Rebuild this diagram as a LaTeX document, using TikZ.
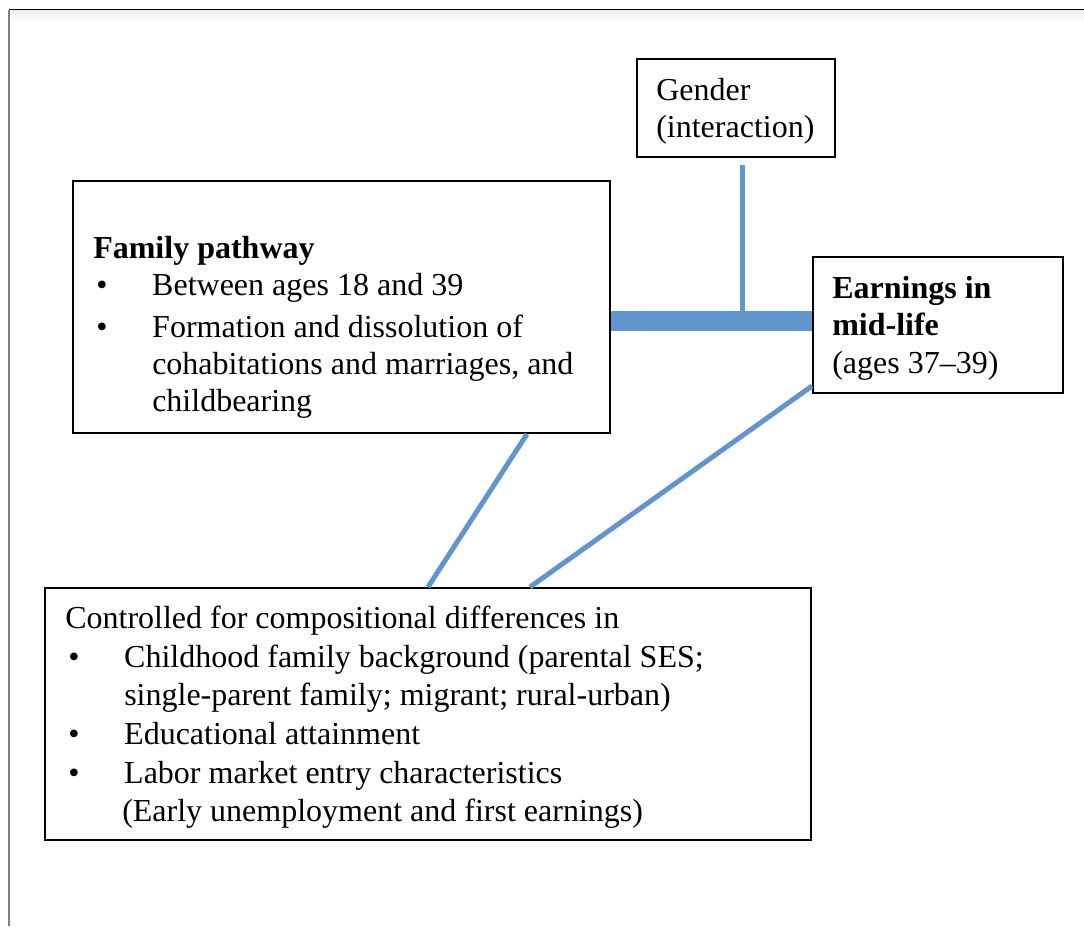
\documentclass[tikz,border=0pt]{standalone}
\usepackage{fontspec}
\setmainfont{Liberation Serif}
\usepackage{tikz}
\usetikzlibrary{calc}
\definecolor{linkblue}{RGB}{98,149,203}
\newcommand{\bulletmark}{\hspace*{2.25pt}\makebox[42pt][l]{\textbullet}}
\newcommand{\contindent}{\hspace*{44.25pt}}

\begin{document}
\begin{tikzpicture}[x=0.75pt,y=0.75pt,yscale=-1,xscale=1,
  box/.style={draw, line width=1.5, anchor=north west, inner sep=0pt},
  txt/.style={anchor=north west, inner sep=0pt, align=left, font=\fontsize{24}{28}\selectfont},
  link/.style={draw=linkblue, line width=3.75, line cap=butt}]
\useasboundingbox (0,0) rectangle (1084,926);

%Page frame
\shade[top color=black!7, bottom color=white] (9,10) rectangle (1084,22);
\draw[line width=1] (9,9.5) -- (1084,9.5);
\draw[gray, line width=1.5] (9,9.5) -- (9,926);

%Shape: Rectangle [gender]
\node[box, minimum width=148.5pt, minimum height=73.5pt] (gender) at (636,58) {};
%Shape: Rectangle [family]
\node[box, minimum width=402.75pt, minimum height=189pt] (family) at (72,180) {};
%Shape: Rectangle [earnings]
\node[box, minimum width=187.5pt, minimum height=102pt] (earnings) at (812,256) {};
%Shape: Rectangle [controls]
\node[box, minimum width=574.5pt, minimum height=189pt] (controls) at (44,587) {};

%Straight Lines
\coordinate (barL) at ($(family.east)+(0,14)$);
\coordinate (barR) at (earnings.west |- barL);
\coordinate (gstem) at ($(gender.south)+(6,7)$);
\draw[link] (gstem) -- (gstem |- barL);
\draw[link, line width=15] (barL) -- (barR);
\draw[link] ($(family.south)+(185.5,0)$) -- (controls.north);
\draw[link] ($(earnings.south west)+(0,-8)$) -- ($(controls.north)+(102,0)$);

% Text Node
\node[txt] (gendertxt) at (656,74) {\strut Gender\\(interaction)};
% Text Node
\node[txt] (familytxt) at (93,232) {\strut\textbf{Family pathway}\\
  \bulletmark Between ages 18 and 39\\[3pt]
  \bulletmark Formation and dissolution of\\
  \contindent cohabitations and marriages, and\\
  \contindent childbearing};
% Text Node
\node[txt] (earningstxt) at (832,272) {\strut\textbf{Earnings in}\\
  \textbf{mid-life}\\
  (ages 37--39)};
% Text Node
\node[txt] (controlstxt) at (65,602) {\strut Controlled for compositional differences in\\[1.5pt]
  \bulletmark Childhood family background (parental SES;\\
  \contindent single-parent family; migrant; rural-urban)\\[1.5pt]
  \bulletmark Educational attainment\\[1.5pt]
  \bulletmark Labor market entry characteristics\\
  \hspace*{42.75pt}(Early unemployment and first earnings)};

\end{tikzpicture}
\end{document}
